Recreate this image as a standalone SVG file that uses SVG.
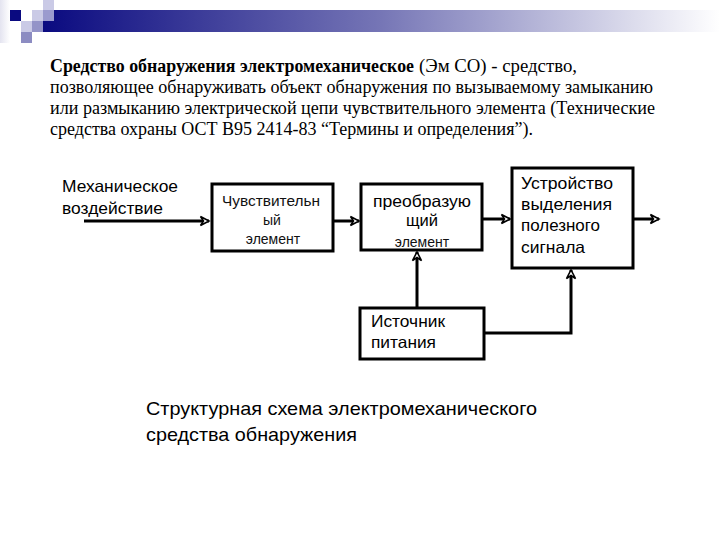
<svg xmlns="http://www.w3.org/2000/svg" width="720" height="540" viewBox="0 0 720 540">
<defs>
<linearGradient id="bar" x1="0" y1="0" x2="1" y2="0">
<stop offset="0" stop-color="#0a0a80"/>
<stop offset="0.5" stop-color="#7676b6"/>
<stop offset="1" stop-color="#ffffff"/>
</linearGradient>
<linearGradient id="strip" x1="0" y1="0" x2="1" y2="0">
<stop offset="0" stop-color="#e4e4f0"/>
<stop offset="1" stop-color="#ffffff"/>
</linearGradient>
<marker id="ah" markerUnits="userSpaceOnUse" markerWidth="14" markerHeight="14" refX="9" refY="5" orient="auto" overflow="visible">
<path d="M0.5,0.5 L9,5 L0.5,9.5 L3.5,5 Z" fill="#ffffff" stroke="#000000" stroke-width="1.6" stroke-linejoin="miter"/>
</marker>
<style>
.para{font-family:"Liberation Serif","Times New Roman",serif;font-size:18px;fill:#000}
.b{font-weight:bold}
.lbl{font-family:"Liberation Sans",Arial,sans-serif;font-size:16.5px;fill:#000}
.sm{font-family:"Liberation Sans",Arial,sans-serif;font-size:14px;fill:#111}
.cap{font-family:"Liberation Sans",Arial,sans-serif;font-size:19px;fill:#000}
.box{fill:#fff;stroke:#000;stroke-width:3}
.wire{fill:none;stroke:#000;stroke-width:3}
</style>
</defs>
<rect width="720" height="540" fill="#fff"/>
<g id="header">
<rect x="0" y="0" width="10" height="43" fill="url(#strip)"/>
<rect x="43" y="10" width="677" height="22" fill="url(#bar)"/>
<rect x="10" y="10" width="11" height="11" fill="#0a0a80"/>
<rect x="32" y="10" width="11" height="11" fill="#cacae6"/>
<rect x="43" y="0" width="11" height="10" fill="#cacae6"/>
<rect x="43" y="10" width="11" height="11" fill="#9a9ace"/>
<rect x="21" y="21" width="11" height="11" fill="#cacae6"/>
<rect x="32" y="21" width="11" height="11" fill="#9494c8"/>
<rect x="21" y="32" width="11" height="11" fill="#8c8cc2"/>
</g>
<g id="definition">
<text class="para b" x="50" y="72" textLength="364" lengthAdjust="spacingAndGlyphs">Средство обнаружения электромеханическое</text>
<text class="para" x="419" y="72" textLength="158" lengthAdjust="spacingAndGlyphs">(Эм СО) - средство,</text>
<text class="para" x="50" y="93" textLength="603" lengthAdjust="spacingAndGlyphs">позволяющее обнаруживать объект обнаружения по вызываемому замыканию</text>
<text class="para" x="50" y="114" textLength="605" lengthAdjust="spacingAndGlyphs">или размыканию электрической цепи чувствительного элемента (Технические</text>
<text class="para" x="50" y="135" textLength="483" lengthAdjust="spacingAndGlyphs">средства охраны ОСТ В95 2414-83 “Термины и определения”).</text>
</g>
<g id="input-label">
<text class="lbl" x="62" y="192" textLength="116" lengthAdjust="spacingAndGlyphs">Механическое</text>
<text class="lbl" x="62" y="214" textLength="101" lengthAdjust="spacingAndGlyphs">воздействие</text>
</g>
<g id="connectors">
<line class="wire" x1="84" y1="221" x2="209" y2="221" marker-end="url(#ah)"/>
<line class="wire" x1="333" y1="221" x2="359" y2="221" marker-end="url(#ah)"/>
<line class="wire" x1="482" y1="219" x2="510" y2="219" marker-end="url(#ah)"/>
<line class="wire" x1="633" y1="219" x2="659" y2="219" marker-end="url(#ah)"/>
<line class="wire" x1="417" y1="308" x2="417" y2="252" marker-end="url(#ah)"/>
<polyline class="wire" points="484,333 571,333 571,270" marker-end="url(#ah)"/>
</g>
<g id="sensor">
<rect class="box" x="212" y="184" width="121" height="67"/>
<text class="sm" x="222" y="206" textLength="98" lengthAdjust="spacingAndGlyphs">Чувствительн</text>
<text class="sm" x="272" y="225" text-anchor="middle">ый</text>
<text class="sm" x="273" y="244" text-anchor="middle">элемент</text>
</g>
<g id="converter">
<rect class="box" x="361" y="184" width="121" height="66"/>
<text class="lbl" x="373" y="207" textLength="98" lengthAdjust="spacingAndGlyphs">преобразую</text>
<text class="lbl" x="422" y="226" text-anchor="middle">щий</text>
<text class="sm" x="422" y="247" text-anchor="middle" font-size="13">элемент</text>
</g>
<g id="extractor">
<rect class="box" x="512" y="168" width="121" height="100"/>
<text class="lbl" x="521" y="189" textLength="92" lengthAdjust="spacingAndGlyphs">Устройство</text>
<text class="lbl" x="521" y="210" textLength="91" lengthAdjust="spacingAndGlyphs">выделения</text>
<text class="lbl" x="521" y="231" textLength="79" lengthAdjust="spacingAndGlyphs">полезного</text>
<text class="lbl" x="521" y="253" textLength="64" lengthAdjust="spacingAndGlyphs">сигнала</text>
</g>
<g id="power">
<rect class="box" x="360" y="308" width="124" height="51"/>
<text class="lbl" x="371" y="327" textLength="74" lengthAdjust="spacingAndGlyphs">Источник</text>
<text class="lbl" x="371" y="348" textLength="65" lengthAdjust="spacingAndGlyphs">питания</text>
</g>
<g id="caption">
<text class="cap" x="146" y="415" textLength="391" lengthAdjust="spacingAndGlyphs">Структурная схема электромеханического</text>
<text class="cap" x="146" y="441" textLength="211" lengthAdjust="spacingAndGlyphs">средства обнаружения</text>
</g>
</svg>
